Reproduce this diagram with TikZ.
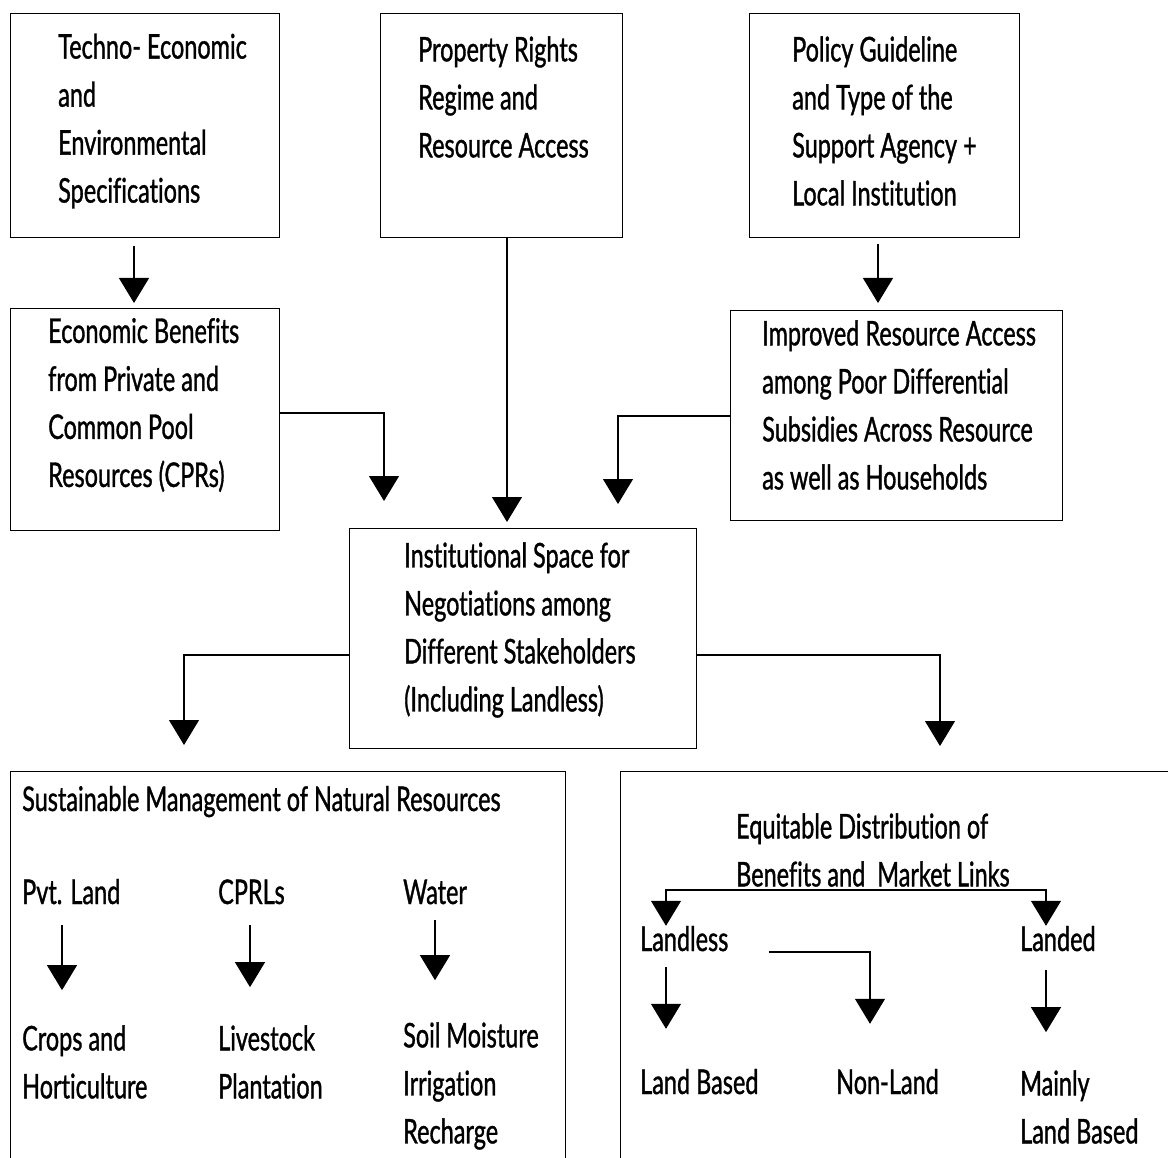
\documentclass[tikz,border=0pt]{standalone}
\usepackage{fontspec}
\setmainfont{Lato}[FakeStretch=0.69, FakeBold=1.0, Ligatures=NoCommon]
\usetikzlibrary{arrows.meta}
\begin{document}
\begin{tikzpicture}[x=1pt, y=-1pt]
        \tikzstyle{blk} = [draw, black, line width=1.1pt]
        \tikzstyle{tip} = [-{Triangle[width=30pt, length=25pt]}]
        \tikzstyle{tiptip} = [{Triangle[width=30pt, length=25pt]}-{Triangle[width=30pt, length=25pt]}]
        \tikzstyle{box} = [draw, black, line width=1.1pt, anchor=north west, inner sep=0pt]
        \tikzstyle{txt} = [anchor=west, align=left, inner sep=0pt, font=\fontsize{34}{48}\selectfont]
        \tikzstyle{lbl} = [anchor=base west, inner sep=0pt, text height=24pt, text depth=7pt, font=\fontsize{34}{48}\selectfont]

        \clip (0, 0) rectangle (1168, 1158);

        % top row
        \node[box, minimum width=269pt, minimum height=224pt] (techbox) at (10, 13) {};
        \node[box, minimum width=242pt, minimum height=224pt] (propbox) at (380, 13) {};
        \node[box, minimum width=270pt, minimum height=224pt] (policybox) at (749, 13) {};
        \node[txt] (tech) at (58, 121) {Techno- Economic\\and\\Environmental\\Specifications};
        \node[txt] (prop) at (418, 97) {Property Rights\\Regime and\\Resource Access};
        \node[txt] (policy) at (792, 121) {Policy Guideline\\and Type of the\\Support Agency +\\Local Institution};

        % second row
        \node[box, minimum width=269pt, minimum height=222pt] (econbox) at (10, 308) {};
        \node[box, minimum width=332pt, minimum height=210pt] (improvedbox) at (730, 310) {};
        \node[txt] (econ) at (48, 405) {Economic Benefits\\from Private and\\Common Pool\\Resources (CPRs)};
        \node[txt] (improved) at (762, 405) {Improved Resource Access\\among Poor Differential\\Subsidies Across Resource\\as well as Households};

        % centre
        \node[box, minimum width=347pt, minimum height=220pt] (instbox) at (349, 528) {};
        \node[txt] (inst) at (404, 630) {Institutional Space for\\Negotiations among\\Different Stakeholders\\(Including Landless)};

        % bottom boxes
        \node[box, minimum width=555pt, minimum height=420pt] (mgmtbox) at (10, 771) {};
        \node[box, minimum width=600pt, minimum height=420pt] (distbox) at (620, 771) {};

        \node[lbl] (sust) at (22, 811) {Sustainable Management of Natural Resources};
        \node[lbl] (pvt) at (22, 904) {Pvt. Land};
        \node[lbl] (cprl) at (218, 904) {CPRLs};
        \node[lbl] (water) at (403, 904) {Water};
        \node[txt] (crops) at (22, 1062) {Crops and\\Horticulture};
        \node[txt] (livestock) at (218, 1062) {Livestock\\Plantation};
        \node[txt] (soil) at (403, 1086) {Soil Moisture\\Irrigation\\Recharge};

        \node[txt] (equit) at (736, 850) {Equitable Distribution of\\Benefits and\ \ Market Links};
        \coordinate (fork) at (856, 890);
        \node[lbl] (landless) at (640, 951) {Landless};
        \node[lbl] (landed) at (1020, 951) {Landed};
        \node[lbl] (landbased) at (640, 1094) {Land Based};
        \node[lbl] (nonland) at (836, 1094) {Non-Land};
        \node[txt] (mainly) at (1020, 1107) {Mainly\\Land Based};

        % connectors
        \path[blk, tip, shorten <=8pt, shorten >=5pt] (techbox.south -| 134,0) to (econbox.north -| 134,0);
        \path[blk, tip, shorten <=6pt, shorten >=7pt] (policybox.south -| 878,0) to (improvedbox.north -| 878,0);
        \path[blk, tip, shorten >=6pt] (propbox.south -| 507,0) to (instbox.north -| 507,0);
        \draw[blk, tip, shorten >=27pt] (econbox.east |- 0,413) -| (instbox.north -| 384,0);
        \draw[blk, tip, shorten >=24pt] (improvedbox.west |- 0,416) -| (instbox.north -| 618,0);
        \draw[blk, tip, shorten >=26pt] (instbox.west |- 0,655) -| (mgmtbox.north -| 184,0);
        \draw[blk, tip, shorten >=25pt] (instbox.east |- 0,655) -| (distbox.north -| 940,0);

        \path[blk, tip, shorten <=14pt, shorten >=35pt] (pvt.south -| 62,0) to (crops.north -| 62,0);
        \path[blk, tip, shorten <=14pt, shorten >=38pt] (cprl.south -| 250,0) to (livestock.north -| 250,0);
        \path[blk, tip, shorten <=9pt, shorten >=42pt] (water.south -| 435,0) to (soil.north -| 435,0);

        \draw[blk, tiptip, shorten <=1pt, shorten >=1pt] (landless.north -| 666,0) |- (fork) -| (landed.north -| 1046,0);
        \path[blk, tip, shorten <=9pt, shorten >=41pt] (landless.south -| 666,0) to (landbased.north -| 666,0);
        \draw[blk, tip, shorten <=40pt, shorten >=46pt] (landless.east |- 0,952) -| (nonland.north -| 870,0);
        \path[blk, tip, shorten <=12pt, shorten >=38pt] (landed.south -| 1046,0) to (mainly.north -| 1046,0);
\end{tikzpicture}
\end{document}
